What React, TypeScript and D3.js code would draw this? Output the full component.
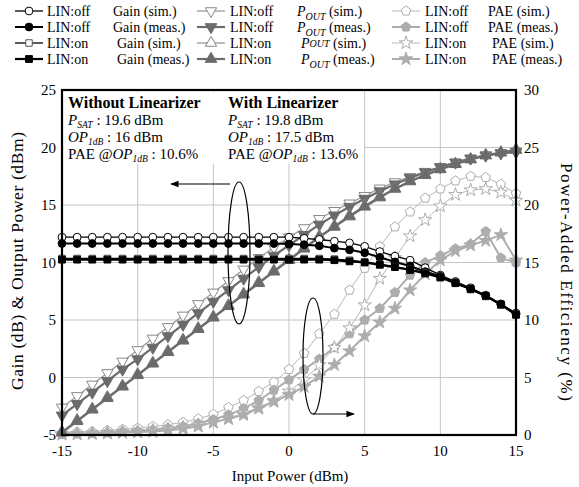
import React from "react";
import * as d3 from "d3";

// input power sweep (dBm)
const inputPower = [-15, -14, -13, -12, -11, -10, -9, -8, -7, -6, -5, -4, -3, -2, -1, 0, 1, 2, 3, 4, 5, 6, 7, 8, 9, 10, 11, 12, 13, 14, 15];

// gain (dB), left axis
const gainOffSim = [12.2, 12.2, 12.2, 12.2, 12.2, 12.2, 12.2, 12.2, 12.2, 12.2, 12.2, 12.2, 12.2, 12.2, 12.2, 12.2, 12.1, 12.0, 11.85, 11.7, 11.4, 10.95, 10.55, 10.2, 9.55, 8.9, 8.35, 7.8, 7.15, 6.4, 5.6];
const gainOffMeas = [11.65, 11.65, 11.65, 11.65, 11.65, 11.65, 11.65, 11.65, 11.65, 11.65, 11.65, 11.65, 11.65, 11.65, 11.65, 11.6, 11.55, 11.45, 11.25, 11.1, 10.85, 10.45, 10.05, 9.7, 9.2, 8.8, 8.25, 7.7, 7.1, 6.35, 5.5];
const gainOnSim = [10.35, 10.35, 10.35, 10.35, 10.35, 10.35, 10.35, 10.35, 10.35, 10.35, 10.35, 10.35, 10.35, 10.35, 10.35, 10.35, 10.35, 10.35, 10.3, 10.2, 10.05, 9.85, 9.65, 9.4, 9.1, 8.7, 8.2, 7.65, 7.05, 6.3, 5.5];
const gainOnMeas = [10.25, 10.25, 10.25, 10.25, 10.25, 10.25, 10.25, 10.25, 10.25, 10.25, 10.25, 10.25, 10.25, 10.25, 10.25, 10.25, 10.25, 10.25, 10.2, 10.1, 10.0, 9.8, 9.6, 9.35, 9.05, 8.7, 8.2, 7.7, 7.1, 6.35, 5.45];

// output power (dBm), left axis
const poutOffSim = [-2.6, -1.6, -0.6, 0.4, 1.4, 2.4, 3.4, 4.4, 5.4, 6.4, 7.4, 8.4, 9.4, 10.4, 11.3, 12.2, 13.0, 13.8, 14.5, 15.15, 15.8, 16.45, 17.0, 17.45, 17.9, 18.3, 18.7, 19.05, 19.35, 19.55, 19.7];
const poutOffMeas = [-3.3, -2.3, -1.3, -0.3, 0.7, 1.6, 2.6, 3.6, 4.6, 5.6, 6.6, 7.6, 8.6, 9.6, 10.6, 11.5, 12.4, 13.3, 14.1, 14.85, 15.55, 16.2, 16.8, 17.35, 17.85, 18.3, 18.7, 19.05, 19.3, 19.5, 19.6];
const poutOnSim = [-4.7, -3.7, -2.7, -1.7, -0.7, 0.3, 1.3, 2.3, 3.3, 4.3, 5.3, 6.3, 7.3, 8.3, 9.3, 10.3, 11.3, 12.3, 13.2, 14.1, 14.95, 15.75, 16.45, 17.1, 17.65, 18.15, 18.6, 19.0, 19.35, 19.6, 19.8];
const poutOnMeas = [-4.8, -3.8, -2.8, -1.8, -0.8, 0.2, 1.2, 2.2, 3.2, 4.2, 5.2, 6.2, 7.2, 8.2, 9.2, 10.2, 11.2, 12.2, 13.1, 14.0, 14.85, 15.65, 16.4, 17.05, 17.6, 18.1, 18.55, 18.95, 19.3, 19.55, 19.8];

// power-added efficiency (%), right axis
const paeOffSim = [0.2, 0.25, 0.3, 0.4, 0.5, 0.6, 0.75, 0.9, 1.1, 1.4, 1.8, 2.4, 3.0, 3.8, 4.6, 5.7, 7.1, 8.8, 10.5, 12.6, 14.5, 16.4, 18.1, 19.4, 20.6, 21.4, 22.1, 22.5, 22.4, 21.8, 21.0];
const paeOffMeas = [0.05, 0.1, 0.15, 0.2, 0.3, 0.35, 0.45, 0.6, 0.75, 1.0, 1.35, 1.75, 2.3, 3.0, 3.9, 4.8, 5.7, 6.6, 7.6, 8.8, 10.0, 11.0, 12.4, 13.9, 15.0, 15.6, 16.2, 16.6, 17.7, 15.4, 15.0];
const paeOnSim = [0.1, 0.12, 0.15, 0.2, 0.25, 0.3, 0.4, 0.5, 0.65, 0.85, 1.1, 1.45, 1.9, 2.4, 3.0, 3.8, 4.8, 6.1, 7.6, 9.3, 11.3, 13.6, 15.4, 17.3, 18.7, 19.9, 20.9, 21.3, 21.4, 21.1, 20.4];
const paeOnMeas = [0.05, 0.08, 0.1, 0.15, 0.2, 0.25, 0.3, 0.4, 0.55, 0.75, 1.1, 1.4, 1.75, 2.3, 2.9, 3.5, 4.2, 5.1, 6.1, 7.3, 8.6, 9.8, 11.0, 12.6, 14.0, 15.2, 16.0, 16.5, 16.9, 17.4, 15.2];

const xTicks = [-15, -10, -5, 0, 5, 10, 15];
const leftTicks = [-5, 0, 5, 10, 15, 20, 25];
const rightTicks = [0, 5, 10, 15, 20, 25, 30];

const FONT = "'Liberation Serif', 'Times New Roman', serif";

// regular pentagon marker (d3 has none)
const symbolPentagon = {
    draw(context, size) {
        const r = Math.sqrt(size / 2.3776);
        for (let i = 0; i < 5; i++) {
            const a = -Math.PI / 2 + (i * 2 * Math.PI) / 5;
            if (i === 0) context.moveTo(r * Math.cos(a), r * Math.sin(a));
            else context.lineTo(r * Math.cos(a), r * Math.sin(a));
        }
        context.closePath();
    },
};

const BLACK = "#000";
const DARK = "#6b6b6b";
const MID = "#9a9a9a";
const LIGHT = "#adadad";
const LIGHTER = "#b8b8b8";

const series = [
    { id: "gainOffSim", values: gainOffSim, axis: "L", line: BLACK, lw: 1.3, sym: d3.symbolCircle, size: 48, fill: "#fff", ms: BLACK, rot: 0 },
    { id: "gainOffMeas", values: gainOffMeas, axis: "L", line: BLACK, lw: 2, sym: d3.symbolCircle, size: 48, fill: BLACK, ms: BLACK, rot: 0 },
    { id: "gainOnSim", values: gainOnSim, axis: "L", line: BLACK, lw: 1.3, sym: d3.symbolSquare, size: 42, fill: "#fff", ms: "#555", rot: 0 },
    { id: "gainOnMeas", values: gainOnMeas, axis: "L", line: BLACK, lw: 2.2, sym: d3.symbolSquare, size: 46, fill: BLACK, ms: BLACK, rot: 0 },
    { id: "poutOffSim", values: poutOffSim, axis: "L", line: MID, lw: 1.3, sym: d3.symbolTriangle, size: 55, fill: "#fff", ms: "#888", rot: 180 },
    { id: "poutOffMeas", values: poutOffMeas, axis: "L", line: DARK, lw: 2.2, sym: d3.symbolTriangle, size: 58, fill: DARK, ms: DARK, rot: 180 },
    { id: "poutOnSim", values: poutOnSim, axis: "L", line: MID, lw: 1.3, sym: d3.symbolTriangle, size: 55, fill: "#fff", ms: "#888", rot: 0 },
    { id: "poutOnMeas", values: poutOnMeas, axis: "L", line: DARK, lw: 2.2, sym: d3.symbolTriangle, size: 58, fill: DARK, ms: DARK, rot: 0 },
    { id: "paeOffSim", values: paeOffSim, axis: "R", line: LIGHTER, lw: 1, sym: symbolPentagon, size: 60, fill: "#fff", ms: LIGHT, rot: 0 },
    { id: "paeOffMeas", values: paeOffMeas, axis: "R", line: LIGHT, lw: 2, sym: symbolPentagon, size: 60, fill: LIGHT, ms: LIGHT, rot: 0 },
    { id: "paeOnSim", values: paeOnSim, axis: "R", line: LIGHTER, lw: 1, sym: d3.symbolStar, size: 55, fill: "#fff", ms: LIGHT, rot: 0 },
    { id: "paeOnMeas", values: paeOnMeas, axis: "R", line: LIGHT, lw: 2, sym: d3.symbolStar, size: 55, fill: LIGHT, ms: LIGHT, rot: 0 },
];

const legendCols = [
    { lineX: 15, textX: 47, labelX: [113, 113, 117, 117], items: ["gainOffSim", "gainOffMeas", "gainOnSim", "gainOnMeas"], lin: ["LIN:off", "LIN:off", "LIN:on", "LIN:on"], what: "Gain", kind: ["(sim.)", "(meas.)", "(sim.)", "(meas.)"] },
    { lineX: 197, textX: 230, labelX: [297, 297, 301, 301], items: ["poutOffSim", "poutOffMeas", "poutOnSim", "poutOnMeas"], lin: ["LIN:off", "LIN:off", "LIN:on", "LIN:on"], what: "POUT", kind: ["(sim.)", "(meas.)", "(sim.)", "(meas.)"] },
    { lineX: 392, textX: 425, labelX: [488, 488, 492, 492], items: ["paeOffSim", "paeOffMeas", "paeOnSim", "paeOnMeas"], lin: ["LIN:off", "LIN:off", "LIN:on", "LIN:on"], what: "PAE", kind: ["(sim.)", "(meas.)", "(sim.)", "(meas.)"] },
];
const legendRows = [11, 27, 43, 59];

const Marker = ({ s, x, y }) => {
    const d = d3.symbol().type(s.sym).size(s.size)();
    return (
        <path
            d={d}
            transform={`translate(${x},${y}) rotate(${s.rot})`}
            fill={s.fill}
            stroke={s.ms}
            strokeWidth={1}
        />
    );
};

// one line of the annotation box, e.g. "P_SAT : 19.6 dBm"
const SubLine = ({ x, y, pre, main, sub, post }) => (
    <text x={x} y={y} fontSize={15}>
        {pre ? <tspan>{pre}</tspan> : null}
        <tspan fontStyle="italic">{main}</tspan>
        <tspan fontStyle="italic" fontSize={9.5} dy={3}>{sub}</tspan>
        <tspan dy={-3}>{post}</tspan>
    </text>
);

const App = () => {
    const W = 579;
    const H = 487;
    const x = d3.scaleLinear().domain([-15, 15]).range([62, 516]);
    const yL = d3.scaleLinear().domain([-5, 25]).range([435, 90]);
    const yR = d3.scaleLinear().domain([0, 30]).range([435, 90]);

    const byId = {};
    series.forEach((s) => (byId[s.id] = s));

    // draw the PAE first, then output power, then gain on top
    const drawOrder = [...series.slice(8), ...series.slice(4, 8), ...series.slice(0, 4)];

    return (
        <svg width={W} height={H} style={{ position: "absolute", left: 0, top: 0, fontFamily: FONT }}>
            <rect x={0} y={0} width={W} height={H} fill="#fff" />

            {/* gridlines */}
            {[-10, -5, 0, 5, 10].map((v) => (
                <line key={"gx" + v} x1={x(v)} x2={x(v)} y1={yL(25)} y2={yL(-5)} stroke="#c4c4c4" strokeWidth={1} />
            ))}
            {[0, 5, 10, 15, 20].map((v) => (
                <line key={"gy" + v} x1={x(-15)} x2={x(15)} y1={yL(v)} y2={yL(v)} stroke="#c4c4c4" strokeWidth={1} />
            ))}

            {/* series */}
            {drawOrder.map((s) => {
                const yS = s.axis === "L" ? yL : yR;
                const line = d3.line()
                    .x((d, i) => x(inputPower[i]))
                    .y((d) => yS(d));
                return (
                    <g key={s.id}>
                        <path d={line(s.values)} fill="none" stroke={s.line} strokeWidth={s.lw} />
                        {s.values.map((v, i) => (
                            <Marker key={i} s={s} x={x(inputPower[i])} y={yS(v)} />
                        ))}
                    </g>
                );
            })}

            {/* annotation box */}
            <rect x={64} y={92} width={300} height={72} fill="#fff" />
            <g fill="#000">
                <text x={68} y={108} fontSize={16} fontWeight="bold">Without Linearizer</text>
                <SubLine x={68} y={125} main="P" sub="SAT" post=" : 19.6 dBm" />
                <SubLine x={68} y={142} main="OP" sub="1dB" post=" : 16 dBm" />
                <SubLine x={68} y={159} pre="PAE @" main="OP" sub="1dB" post=" : 10.6%" />

                <text x={228} y={108} fontSize={16} fontWeight="bold">With Linearizer</text>
                <SubLine x={228} y={125} main="P" sub="SAT" post=" : 19.8 dBm" />
                <SubLine x={228} y={142} main="OP" sub="1dB" post=" : 17.5 dBm" />
                <SubLine x={228} y={159} pre="PAE @" main="OP" sub="1dB" post=" : 13.6%" />
            </g>

            {/* plot frame */}
            <rect x={x(-15)} y={yL(25)} width={x(15) - x(-15)} height={yL(-5) - yL(25)} fill="none" stroke="#000" strokeWidth={2.2} />

            {/* ellipses and arrows */}
            <defs>
                <marker id="arrowHead" viewBox="0 0 10 10" refX={9} refY={5} markerWidth={7} markerHeight={7} orient="auto">
                    <path d="M0,1 L10,5 L0,9 Z" fill="#000" />
                </marker>
            </defs>
            <ellipse cx={239} cy={253} rx={11} ry={71} fill="none" stroke="#000" strokeWidth={1.2} />
            <line x1={230} y1={184} x2={171} y2={184} stroke="#000" strokeWidth={1.2} markerEnd="url(#arrowHead)" />
            <ellipse cx={313} cy={356} rx={10} ry={58} fill="none" stroke="#000" strokeWidth={1.2} />
            <line x1={313} y1={414} x2={354} y2={414} stroke="#000" strokeWidth={1.2} markerEnd="url(#arrowHead)" />

            {/* tick labels */}
            <g fontSize={15} fill="#000">
                {leftTicks.map((v) => (
                    <text key={"l" + v} x={56} y={yL(v) + 5} textAnchor="end">{v}</text>
                ))}
                {rightTicks.map((v) => (
                    <text key={"r" + v} x={524} y={yR(v) + 5} textAnchor="start">{v}</text>
                ))}
                {xTicks.map((v) => (
                    <text key={"x" + v} x={x(v)} y={456} textAnchor="middle">{v}</text>
                ))}
            </g>

            {/* axis titles */}
            <text x={290} y={481} fontSize={15} textAnchor="middle">Input Power (dBm)</text>
            <text transform={`translate(23,261) rotate(-90)`} fontSize={17.5} textAnchor="middle" textLength={258} lengthAdjust="spacing">Gain (dB) &amp; Output Power (dBm)</text>
            <text transform={`translate(561,282) rotate(90)`} fontSize={17} textAnchor="middle" textLength={238} lengthAdjust="spacing">Power-Added Efficiency (%)</text>

            {/* legend */}
            {legendCols.map((col) =>
                col.items.map((id, ri) => {
                    const s = byId[id];
                    const cy = legendRows[ri];
                    return (
                        <g key={id} fontSize={14}>
                            <line x1={col.lineX} x2={col.lineX + 28} y1={cy} y2={cy} stroke={s.line} strokeWidth={s.lw} />
                            <Marker s={s} x={col.lineX + 14} y={cy} />
                            <text x={col.textX} y={cy + 5}>{col.lin[ri]}</text>
                            {col.what === "POUT" ? (
                                <text x={col.labelX[ri]} y={cy + 5}>
                                    <tspan fontStyle="italic">P</tspan>
                                    <tspan fontStyle="italic" fontSize={10} dy={ri === 2 ? -1 : 4}>OUT</tspan>
                                    <tspan dy={ri === 2 ? 1 : -4}>{" " + col.kind[ri]}</tspan>
                                </text>
                            ) : (
                                <text x={col.labelX[ri]} y={cy + 5}>{col.what + " " + col.kind[ri]}</text>
                            )}
                        </g>
                    );
                })
            )}
        </svg>
    );
};

export default App;
